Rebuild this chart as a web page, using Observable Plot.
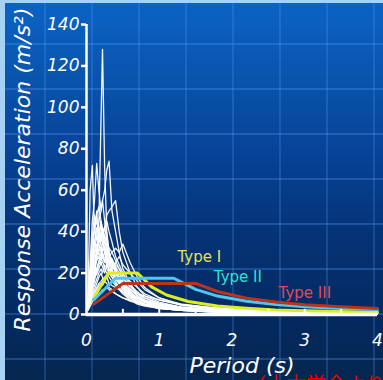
<!DOCTYPE html>
<html>
<head>
<meta charset="utf-8">
<script src="https://cdn.jsdelivr.net/npm/d3@7"></script>
<script src="https://cdn.jsdelivr.net/npm/@observablehq/plot@0.6"></script>
<style>
  html, body { margin: 0; padding: 0; }
  #wrap {
    position: relative; width: 383px; height: 380px; overflow: hidden;
    background:
      repeating-linear-gradient(180deg, transparent 0px, transparent 43px, rgba(90,160,255,0.28) 43px, rgba(90,160,255,0.28) 45px),
      repeating-linear-gradient(90deg, transparent 0px, transparent 44px, rgba(90,160,255,0.22) 44px, rgba(90,160,255,0.22) 46px, transparent 46px, transparent 47px),
      linear-gradient(180deg, #0b63c6 0%, #0956b0 18%, #07449a 38%, #053478 60%, #042a62 82%, #04264f 100%);
  }
  #bl { position: absolute; left: 0; top: 0; width: 5px; height: 380px; background: #a6d3f3; }
  #bt { position: absolute; left: 0; top: 0; width: 383px; height: 3px; background: #a6d3f3; }
  #chart { position: absolute; left: 0; top: 0; }
  #src { position: absolute; left: 246px; top: 369px; color: #e80000; font: 20px "Noto Sans CJK JP"; white-space: nowrap; }
  #chart text.tl { font-size: 18px; }
</style>
</head>
<body>
<div id="wrap">
  <div id="chart"></div>
  <div id="bl"></div><div id="bt"></div>
  <div id="src">（土木学会より）</div>
</div>
<script>
// ---- data ----
const yTicks = [0, 20, 40, 60, 80, 100, 120, 140];
const xTicks = [0, 1, 2, 3, 4];
const xMinor = [0.5, 1, 1.5, 2, 2.5, 3, 3.5];

// periods (s) shared by the recorded response spectra
const periods = [0.02, 0.05, 0.08, 0.11, 0.14, 0.17, 0.2, 0.22, 0.25, 0.28, 0.31, 0.35, 0.4, 0.45, 0.5, 0.6, 0.7, 0.8, 1.0, 1.3, 1.7, 2.2, 3, 4];
// recorded spectra (m/s^2)
const rec01 = [6, 9, 14, 20, 30, 45, 95, 128, 70, 40, 30, 25, 20, 16, 13, 9, 7, 5, 3.5, 2.5, 1.5, 1, 0.6, 0.4];
const rec02 = [8, 60, 72, 40, 50, 35, 45, 40, 30, 25, 20, 18, 15, 12, 10, 7, 5, 4, 3, 2, 1.4, 1, 0.6, 0.4];
const rec03 = [7, 25, 45, 55, 73, 60, 50, 55, 45, 38, 30, 25, 22, 18, 14, 10, 7, 5, 3.5, 2.5, 1.6, 1.1, 0.7, 0.5];
const rec04 = [6, 15, 25, 35, 40, 45, 50, 55, 60, 70, 74, 50, 40, 30, 22, 15, 10, 7, 4.5, 3, 2, 1.3, 0.8, 0.5];
const rec05 = [5, 12, 20, 25, 30, 38, 45, 40, 42, 48, 50, 52, 55, 40, 30, 20, 13, 9, 6, 3.5, 2.2, 1.5, 0.9, 0.6];
const rec06 = [5, 10, 15, 18, 22, 25, 28, 30, 27, 25, 28, 30, 32, 30, 34, 25, 18, 13, 8, 4.5, 2.8, 1.8, 1, 0.7];
const rec07 = [4, 12, 25, 35, 42, 38, 45, 40, 35, 32, 28, 22, 18, 15, 12, 9, 6, 4.5, 3, 2, 1.3, 0.9, 0.5, 0.3];
const rec08 = [5, 18, 30, 40, 48, 52, 45, 38, 42, 36, 30, 26, 22, 18, 15, 11, 8, 6, 4, 2.8, 1.8, 1.2, 0.7, 0.5];
const rec09 = [4, 10, 18, 22, 28, 32, 35, 38, 42, 45, 40, 35, 28, 24, 20, 14, 10, 8, 5, 3.5, 2.3, 1.6, 1, 0.7];
const rec10 = [3, 8, 14, 18, 20, 24, 26, 28, 25, 30, 28, 26, 24, 22, 19, 16, 13, 10, 7, 4.5, 3, 2, 1.2, 0.8];
const rec11 = [3, 7, 11, 14, 17, 20, 22, 20, 24, 22, 20, 22, 25, 28, 24, 20, 16, 12, 8, 5, 3.2, 2.2, 1.3, 0.9];
const rec12 = [3, 6, 10, 12, 15, 18, 20, 18, 16, 18, 15, 14, 13, 12, 11, 9, 8, 7, 5, 3.5, 2.5, 1.8, 1.1, 0.8];
const rec13 = [4, 9, 15, 20, 26, 30, 33, 28, 26, 24, 22, 20, 17, 15, 13, 10, 8, 6, 4, 2.5, 1.6, 1.1, 0.7, 0.4];
const rec14 = [3, 6, 9, 11, 13, 15, 16, 17, 18, 19, 20, 18, 17, 16, 14, 12, 10, 9, 7, 5, 3.5, 2.5, 1.5, 1];
const rec15 = [2, 5, 8, 10, 12, 14, 15, 14, 16, 15, 13, 12, 10, 9, 8, 6.5, 5.5, 4.5, 3.5, 2.5, 1.8, 1.2, 0.8, 0.5];
const rec16 = [4, 14, 28, 36, 30, 34, 40, 35, 32, 28, 24, 20, 16, 13, 11, 8, 6, 4.5, 3, 2, 1.3, 0.9, 0.5, 0.3];
const rec17 = [3, 8, 12, 16, 22, 26, 30, 34, 38, 35, 32, 30, 26, 22, 18, 13, 9, 6, 4, 2.8, 1.8, 1.2, 0.7, 0.4];
const rec18 = [2, 4, 6, 8, 9, 10, 11, 12, 12, 13, 12, 11, 10, 9, 8, 7, 6, 5, 4, 3, 2, 1.5, 1, 0.7];
const rec19 = [5, 20, 35, 42, 36, 40, 34, 30, 36, 30, 26, 24, 20, 17, 14, 10, 7, 5, 3.5, 2.4, 1.5, 1, 0.6, 0.4];
const rec20 = [4, 11, 20, 28, 34, 30, 26, 30, 33, 28, 24, 27, 23, 20, 16, 12, 9, 6.5, 4.5, 3, 2, 1.3, 0.8, 0.5];
const rec21 = [3, 9, 16, 24, 19, 22, 25, 23, 20, 24, 26, 21, 19, 20, 17, 14, 11, 8, 5.5, 3.5, 2.4, 1.6, 1, 0.6];
const rec22 = [4, 16, 38, 48, 44, 40, 36, 42, 38, 33, 29, 24, 21, 18, 15, 11, 8, 6, 4, 2.6, 1.7, 1.1, 0.7, 0.4];
const rec23 = [3, 10, 22, 30, 26, 28, 24, 26, 22, 20, 18, 16, 14, 12, 10, 8, 6, 4.5, 3, 2, 1.3, 0.9, 0.5, 0.3];
const rec24 = [5, 14, 24, 30, 38, 34, 30, 27, 30, 26, 22, 19, 18, 15, 12, 9, 7, 5, 3.5, 2.3, 1.5, 1, 0.6, 0.4];
const records = [rec01, rec02, rec03, rec04, rec05, rec06, rec07, rec08, rec09, rec10, rec11, rec12, rec13, rec14, rec15, rec16, rec17, rec18, rec19, rec20, rec21, rec22, rec23, rec24];

// design spectra
const typeIT = [0.1, 0.3, 0.7, 0.9, 1.1, 1.4, 1.8, 2.2, 2.6, 3.0, 3.5, 4.0];
const typeIV = [8, 20, 20, 13.2, 9.4, 6.3, 4.1, 3.0, 2.2, 1.8, 1.4, 1.1];
const typeIIT = [0.1, 0.4, 1.2, 1.5, 1.8, 2.2, 2.6, 3.0, 3.5, 4.0];
const typeIIV = [7, 17.5, 17.5, 12.1, 8.9, 6.4, 4.8, 3.8, 2.9, 2.4];
const typeIIIT = [0.1, 0.5, 1.5, 1.8, 2.2, 2.6, 3.0, 3.5, 4.0];
const typeIIIV = [5, 15, 15, 11.1, 7.9, 6.0, 4.7, 3.7, 2.9];

const labelNames = ["Type I", "Type II", "Type III"];
const labelT = [1.25, 1.75, 2.64];
const labelV = [27.6, 17.9, 10.2];
const labelColors = ["#e6e25c", "#2fe0d2", "#e04a5a"];

// ---- build tables ----
const recData = records.flatMap((vals, i) => vals.map((v, j) => ({id: i, T: periods[j], v})));
const toRows = (T, V) => T.map((t, i) => ({T: t, v: V[i]}));
const typeI = toRows(typeIT, typeIV);
const typeII = toRows(typeIIT, typeIIV);
const typeIII = toRows(typeIIIT, typeIIIV);
const labels = labelNames.map((n, i) => ({n, T: labelT[i], v: labelV[i], c: labelColors[i]}));

const font = "DejaVu Sans";
const chart = Plot.plot({
  width: 383,
  height: 380,
  marginLeft: 86,
  marginRight: 6,
  marginTop: 24,
  marginBottom: 66,
  x: {domain: [0, 4], axis: null},
  y: {domain: [0, 140]},
  style: {background: "transparent", color: "white", fontFamily: font, overflow: "visible"},
  marks: [
    Plot.line(recData, {x: "T", y: "v", z: "id", stroke: "white", strokeWidth: 1.3, strokeOpacity: 0.95}),
    Plot.line(typeI, {x: "T", y: "v", stroke: "#dcee22", strokeWidth: 3}),
    Plot.line(typeII, {x: "T", y: "v", stroke: "#4fc6ee", strokeWidth: 3}),
    Plot.line(typeIII, {x: "T", y: "v", stroke: "#b8341c", strokeWidth: 3}),
    Plot.ruleX([0], {stroke: "white", strokeWidth: 2.5}),
    Plot.ruleY([0], {stroke: "white", strokeWidth: 3.5}),
    Plot.ruleX(xMinor, {y1: 0, y2: 2.5, stroke: "white", strokeWidth: 2}),
    Plot.axisY({ticks: yTicks, tickSize: 5, strokeWidth: 2.5, text: null, label: null}),
    Plot.text(yTicks, {x: 0, y: d => d, text: d => String(d), dx: -7, textAnchor: "end", lineAnchor: "middle", fontSize: "17px", fontStyle: "italic", fill: "white", className: "tl"}),
    Plot.text(xTicks, {x: d => d, frameAnchor: "bottom", text: d => String(d), dy: 26, textAnchor: "middle", lineAnchor: "middle", fontSize: "17px", fontStyle: "italic", fill: "white"}),
    Plot.text(["Response Acceleration (m/s²)"], {frameAnchor: "left", textAnchor: "middle", rotate: -90, dx: -64, fontSize: 22, fontStyle: "italic", fill: "white", lineAnchor: "middle"}),
    Plot.text(["Period (s)"], {frameAnchor: "bottom", dx: 10, dy: 58, fontSize: 22, fontStyle: "italic", fill: "white", lineAnchor: "bottom"}),
    Plot.text(labels, {x: "T", y: "v", text: "n", fill: "c", textAnchor: "start", lineAnchor: "middle", fontSize: 15})
  ]
});
document.getElementById("chart").appendChild(chart);
</script>
</body>
</html>
